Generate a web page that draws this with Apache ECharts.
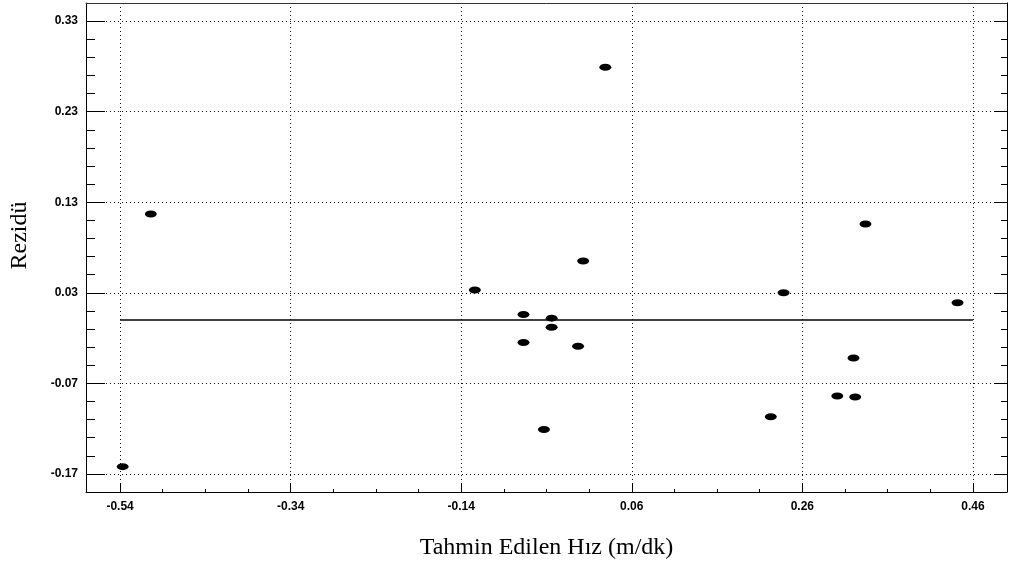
<!DOCTYPE html>
<html>
<head>
<meta charset="utf-8">
<script src="https://cdn.jsdelivr.net/npm/echarts@6/dist/echarts.min.js"></script>
<style>
html,body{margin:0;padding:0;background:#fff;}
#chart{width:1009px;height:568px;}
</style>
</head>
<body>
<div id="chart"></div>
<script>
// Data: predicted speed (x) and residual (y)
const predicted = [-0.537, -0.504, 0.029, -0.124, 0.003, -0.067, -0.034, -0.034, -0.067, -0.003, -0.043, 0.223, 0.238, 0.334, 0.320, 0.301, 0.322, 0.442];
const residual  = [-0.162, 0.117, 0.279, 0.033, 0.065, 0.006, 0.002, -0.008, -0.025, -0.029, -0.121, -0.107, 0.030, 0.106, -0.042, -0.084, -0.085, 0.019];
// Zero reference line
const zeroLineX = [-0.54, 0.46];
const zeroLineY = [0, 0];
// Tick values
const xMajorTicks = [-0.54, -0.34, -0.14, 0.06, 0.26, 0.46];
const xMinorTicks = [-0.49, -0.44, -0.39, -0.29, -0.24, -0.19, -0.09, -0.04, 0.01, 0.11, 0.16, 0.21, 0.31, 0.36, 0.41];
const yMajorTicks = [-0.17, -0.07, 0.03, 0.13, 0.23, 0.33];
const yMinorTicks = [-0.15, -0.13, -0.11, -0.09, -0.05, -0.03, -0.01, 0.01, 0.05, 0.07, 0.09, 0.11, 0.15, 0.17, 0.19, 0.21, 0.25, 0.27, 0.29, 0.31];
const xName = 'Tahmin Edilen Hız (m/dk)';
const yName = 'Rezidü';

const X_MIN = -0.58, X_MAX = 0.50, Y_MIN = -0.19, Y_MAX = 0.35;

const chart = echarts.init(document.getElementById('chart'), null, {renderer: 'canvas'});
const black = '#000';
const labelFont = {color: black, fontFamily: 'Liberation Sans, Arial, sans-serif', fontWeight: 'bold', fontSize: 12};
const dotted = {show: true, lineStyle: {color: '#111', type: [1, 3], width: 1}};

function baseX(extra) {
  return Object.assign({
    type: 'value', min: X_MIN, max: X_MAX, position: 'bottom',
    axisLine: {show: false, onZero: false},
    axisTick: {show: false}, axisLabel: {show: false}, splitLine: {show: false}
  }, extra);
}
function baseY(extra) {
  return Object.assign({
    type: 'value', min: Y_MIN, max: Y_MAX, position: 'left',
    axisLine: {show: false, onZero: false},
    axisTick: {show: false}, axisLabel: {show: false}, splitLine: {show: false}
  }, extra);
}

const option = {
  animation: false,
  backgroundColor: '#fff',
  grid: {left: 86, right: 2, top: 3, bottom: 76, containLabel: false},
  xAxis: [
    baseX({
      axisLine: {show: true, onZero: false, lineStyle: {color: black, width: 1}},
      axisTick: {show: true, inside: true, length: 8, customValues: xMajorTicks, lineStyle: {color: black}},
      axisLabel: {show: true, customValues: xMajorTicks, margin: 9, formatter: v => v.toFixed(2), ...labelFont},
      splitLine: dotted,
      name: xName, nameLocation: 'middle', nameGap: 44,
      nameTextStyle: {fontFamily: 'Liberation Serif, Times New Roman, serif', fontSize: 24, color: black}
    }),
    baseX({
      axisTick: {show: true, inside: true, length: 3, customValues: xMinorTicks, lineStyle: {color: black}}
    }),
    baseX({
      position: 'top',
      axisLine: {show: true, onZero: false, lineStyle: {color: '#333', width: 1}}
    })
  ],
  yAxis: [
    baseY({
      axisLine: {show: true, onZero: false, lineStyle: {color: black, width: 1}},
      axisTick: {show: true, inside: true, length: 19, customValues: yMajorTicks, lineStyle: {color: black}},
      axisLabel: {show: true, customValues: yMajorTicks, margin: 8, formatter: v => v.toFixed(2), ...labelFont},
      splitLine: dotted,
      name: yName, nameLocation: 'middle', nameGap: 54, nameRotate: 90,
      nameTextStyle: {fontFamily: 'Liberation Serif, Times New Roman, serif', fontSize: 24, color: black, padding: [0, 0, 0, 24]}
    }),
    baseY({
      axisTick: {show: true, inside: true, length: 9, customValues: yMinorTicks, lineStyle: {color: black}}
    }),
    baseY({
      position: 'right',
      axisLine: {show: true, onZero: false, lineStyle: {color: black, width: 1}},
      axisTick: {show: true, inside: true, length: 13, customValues: yMajorTicks, lineStyle: {color: black}}
    }),
    baseY({
      position: 'right',
      axisTick: {show: true, inside: true, length: 6, customValues: yMinorTicks, lineStyle: {color: black}}
    })
  ],
  series: [
    {
      type: 'line', xAxisIndex: 0, yAxisIndex: 0,
      data: zeroLineX.map((x, i) => [x, zeroLineY[i]]),
      symbol: 'none', lineStyle: {color: black, width: 1.5}, silent: true, z: 1
    },
    {
      type: 'scatter', xAxisIndex: 0, yAxisIndex: 0,
      data: predicted.map((x, i) => [x, residual[i]]),
      symbol: 'circle', symbolSize: [12, 7],
      itemStyle: {color: black, opacity: 1}, z: 3
    }
  ]
};
chart.setOption(option);
</script>
</body>
</html>
